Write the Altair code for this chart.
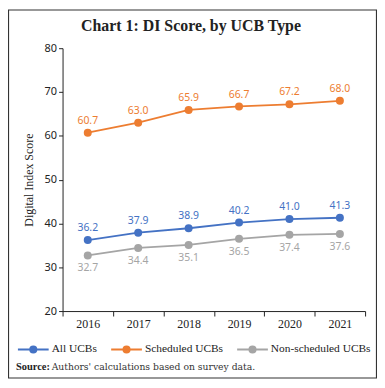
import altair as alt
import pandas as pd

years = ["2016", "2017", "2018", "2019", "2020", "2021"]
series = ["All UCBs", "Scheduled UCBs", "Non-scheduled UCBs"]
all_ucbs = [36.2, 37.9, 38.9, 40.2, 41.0, 41.3]
scheduled = [60.7, 63.0, 65.9, 66.7, 67.2, 68.0]
non_scheduled = [32.7, 34.4, 35.1, 36.5, 37.4, 37.6]
colors = ["#4472C4", "#ED7D31", "#A5A5A5"]
y_ticks = [20, 30, 40, 50, 60, 70, 80]
title_text = "Chart 1: DI Score, by UCB Type"
y_title = "Digital Index Score"
source_label = "Source:"
source_text = "Authors' calculations based on survey data."

rows = []
for s, vals in zip(series, [all_ucbs, scheduled, non_scheduled]):
    for yr, v in zip(years, vals):
        rows.append({"year": yr, "series": s, "value": v, "label": f"{v:.1f}"})
df = pd.DataFrame(rows)

SERIF = "Liberation Serif"
SANS = "Noto Sans"

x_enc = alt.X(
    "year:O", sort=years,
    scale=alt.Scale(type="band", paddingInner=0, paddingOuter=0),
    bandPosition=0.5,
    axis=alt.Axis(title=None, labelAngle=0, tickBand="extent", tickSize=5,
                  labelPadding=3, labelFont=SERIF, labelFontSize=12,
                  labelColor="#222", domainColor="#222", tickColor="#222",
                  grid=False),
)
y_enc = alt.Y(
    "value:Q",
    scale=alt.Scale(domain=[20, 80], nice=False, zero=False),
    axis=alt.Axis(values=y_ticks, title=y_title, titleFont=SERIF,
                  titleFontSize=12, titleFontWeight="normal", titleColor="#222",
                  titlePadding=9, labelFont=SANS, labelFontSize=11,
                  labelColor="#222", tickSize=4, labelPadding=2,
                  domainColor="#222", tickColor="#222", grid=False),
)

color_scale = alt.Scale(domain=series, range=colors)
sym_path = ("M-1,0H1"
            "M-0.2,0A0.2,0.2 0 1,0 0.2,0A0.2,0.2 0 1,0 -0.2,0"
            "M-0.1,0A0.1,0.1 0 1,0 0.1,0A0.1,0.1 0 1,0 -0.1,0")

base = alt.Chart(df)

lines = base.mark_line(strokeWidth=1.8).encode(
    x=x_enc, y=y_enc,
    color=alt.Color("series:N", scale=color_scale, sort=series,
                    legend=alt.Legend(title=None, orient="none", direction="horizontal",
                                      legendX=-46, legendY=287,
                                      symbolType=sym_path, symbolSize=961,
                                      symbolStrokeWidth=2, labelOffset=2,
                                      columnPadding=10, labelFont=SERIF,
                                      labelFontSize=11.5, labelColor="#222")),
)

points = base.mark_circle(size=65, opacity=1).encode(
    x=x_enc, y=y_enc,
    fill=alt.Fill("series:N", scale=color_scale, legend=None),
)

labels_above = base.transform_filter(
    alt.FieldOneOfPredicate(field="series", oneOf=series[:2])
).mark_text(dy=-12, font=SANS, fontSize=10.5).encode(
    x=x_enc, y=y_enc, text="label:N",
    fill=alt.Fill("series:N", scale=color_scale, legend=None),
)

labels_below = base.transform_filter(
    alt.FieldOneOfPredicate(field="series", oneOf=series[2:])
).mark_text(dy=13, font=SANS, fontSize=10.5).encode(
    x=x_enc, y=y_enc, text="label:N",
    fill=alt.Fill("series:N", scale=color_scale, legend=None),
)

deco = alt.Chart(pd.DataFrame({"src": [source_label], "txt": [source_text],
                               "title": [title_text]}))

border = deco.mark_rect(filled=False, stroke="#333", strokeWidth=1.2).encode(
    x=alt.value(-54.5), x2=alt.value(316.5), y=alt.value(-38.5), y2=alt.value(332.5)
)

title = deco.mark_text(align="center", baseline="middle", font=SERIF,
                       fontSize=16, fontWeight="bold", color="#222").encode(
    x=alt.value(129.5), y=alt.value(-22), text="title:N"
)

src_bold = deco.mark_text(align="left", baseline="middle", font=SERIF,
                          fontSize=10.5, fontWeight="bold", color="#222").encode(
    x=alt.value(-47), y=alt.value(321.5), text="src:N"
)
src_text = deco.mark_text(align="left", baseline="middle", font="DejaVu Serif",
                          fontSize=9.3, color="#333").encode(
    x=alt.value(-11), y=alt.value(321.5), text="txt:N"
)

chart = alt.layer(border, title, lines, points, labels_above, labels_below,
                  src_bold, src_text).properties(
    width=305, height=265,
    padding={"left": 55, "top": 39, "right": 12, "bottom": 70},
    autosize="none",
).configure_view(stroke=None)

chart.save("out.html", embed_options={"renderer": "svg", "actions": False})
